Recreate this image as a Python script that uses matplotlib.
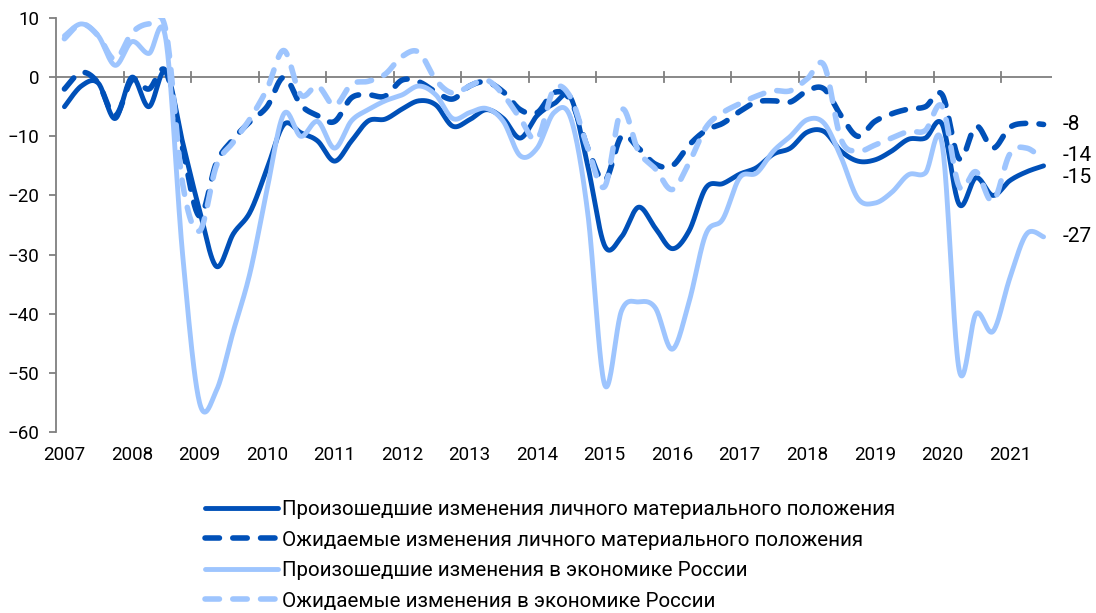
import numpy as np
import pandas as pd
import matplotlib
matplotlib.use("Agg")
import matplotlib.pyplot as plt
import matplotlib.transforms as mtransforms

# quarterly survey balances, 2007Q1 - 2021Q3
quarters = pd.period_range("2007Q1", "2021Q3", freq="Q")

past_personal = [-5, -1.5, -1, -7, 0, -5, 1, -11, -22.5, -32,
                 -26.5, -22.8, -15.5, -8, -9.4, -10.8, -14.2, -10.8, -7.4, -7.1,
                 -5.4, -4, -4.7, -8.3, -7.2, -5.5, -7, -10.3, -6.5, -4.5,
                 -3.5, -15, -28.5, -27, -22, -25.5, -29, -26, -18.7, -18,
                 -16.4, -15.3, -13, -12, -9.3, -9.2, -12.5, -14.2, -14, -12.5,
                 -10.5, -10.3, -8, -21.5, -17, -20, -17.5, -16, -15]

expected_personal = [-2, 0.8, -1, -6.5, -0.5, -2, 1, -12, -23.5, -14.5,
                     -10.5, -7.5, -5, 0, -4.7, -6.5, -7.5, -3.5, -3, -3.2,
                     -0.5, -0.8, -2.5, -3.7, -1.5, -0.8, -2.5, -5.5, -6, -2.6,
                     -4, -12, -17.5, -10, -12, -14.7, -15, -11.5, -9, -7.8,
                     -5.8, -4.2, -4, -4.2, -2.3, -2, -6.5, -10, -7.5, -6.2,
                     -5.4, -5, -3, -13.8, -8.3, -12, -8.5, -7.8, -8]

past_economy = [7, 9, 7, 2, 6, 4, 6.5, -30, -55, -53,
                -43, -33, -19, -6.2, -10, -7.5, -12, -7.4, -5.5, -4,
                -3, -1.5, -3, -7, -6, -5.3, -7.5, -13.3, -12, -6,
                -7, -23, -52, -39.5, -38, -39, -46, -38, -26.5, -24,
                -17, -16.2, -12.5, -10, -7.2, -7.8, -13.5, -20.5, -21.3, -19.5,
                -16.5, -16.2, -11.5, -49.5, -40, -43, -34, -26.5, -27]

expected_economy = [6.5, 9, 7, 3, 7.5, 9, 8, -18, -26, -15,
                    -11, -7, -2, 4.5, -3, -1.5, -4.8, -1.2, -0.7, 0.5,
                    3.5, 4.2, -0.5, -2.7, -1.5, -0.5, -3, -7, -10.5, -2,
                    -3.5, -12, -18.5, -5.5, -12.5, -15.5, -19, -14.5, -8.5, -6,
                    -4.5, -3.2, -2.3, -2.3, -0.3, 2, -10.5, -12.5, -11.5, -10.3,
                    -9.2, -9, -5, -18.5, -16, -21, -13, -12, -14]

labels = [
    "Произошедшие изменения личного материального положения",
    "Ожидаемые изменения личного материального положения",
    "Произошедшие изменения в экономике России",
    "Ожидаемые изменения в экономике России",
]
# last-value labels, in the same order as the series above
end_labels = ["-15", "-8", "-27", "-14"]
years = list(range(2007, 2022))

DARK = "#0050b8"
LIGHT = "#9ec5fe"


def smooth(x, y, n=24):
    # Excel-style smoothed line (Catmull-Rom through the points)
    p = np.column_stack([x, y]).astype(float)
    pp = np.vstack([p[0], p, p[-1]])
    t = np.linspace(0, 1, n, endpoint=False)[:, None]
    parts = []
    for i in range(len(p) - 1):
        p0, p1, p2, p3 = pp[i], pp[i + 1], pp[i + 2], pp[i + 3]
        c1 = p1 + (p2 - p0) / 6
        c2 = p2 - (p3 - p1) / 6
        parts.append((1 - t) ** 3 * p1 + 3 * (1 - t) ** 2 * t * c1
                     + 3 * (1 - t) * t ** 2 * c2 + t ** 3 * p2)
    parts.append(p[-1:])
    s = np.vstack(parts)
    return s[:, 0], s[:, 1]


x = np.array([q.year + (q.quarter - 1) * 0.25 + 0.125 for q in quarters])

plt.rcParams["font.family"] = ["Roboto", "DejaVu Sans"]

fig = plt.figure(figsize=(10.96, 6.13), dpi=100)
ax = fig.add_axes([56 / 1096, 1 - 432 / 613, 996 / 1096, 414 / 613])

dash = (2.6, 2.4)
series = [
    (past_personal, DARK, "-", 3.5),
    (expected_personal, DARK, (0, dash), 4.0),
    (past_economy, LIGHT, "-", 3.5),
    (expected_economy, LIGHT, (0, dash), 4.0),
]
handles = []
for (vals, col, ls, lw), lab in zip(series, labels):
    sx, sy = smooth(x, vals)
    h, = ax.plot(sx, sy, color=col, lw=lw, ls=ls, label=lab,
                 solid_capstyle="round", dash_capstyle="round")
    handles.append(h)

ax.set_xlim(2007, 2021.75)
ax.set_ylim(-60, 10)

# zero line with year ticks
ax.axhline(0, color="#7f7f7f", lw=1.3, zorder=0)
for yr in years[1:]:
    ax.plot([yr, yr], [-0.9, 0.9], color="#7f7f7f", lw=1.3, zorder=0)

for s in ["top", "right", "bottom"]:
    ax.spines[s].set_visible(False)
ax.spines["left"].set_color("#7f7f7f")
ax.spines["left"].set_linewidth(1.3)
ax.set_xticks([])
ax.set_yticks(range(-60, 11, 10))
ax.tick_params(axis="y", direction="out", length=5, width=1.3, color="#7f7f7f",
               labelsize=13.5, pad=7)

trans = mtransforms.blended_transform_factory(ax.transData, ax.transAxes)
for yr in years:
    ax.text(yr + 0.125, -0.035, str(yr), transform=trans, ha="center",
            va="top", fontsize=13.5)

# values at the end of each line
nudge = [-2, 0, 0, 0.8]
for (vals, _, _, _), txt, dy in zip(series, end_labels, nudge):
    ax.text(2021.9, vals[-1] + dy, txt, ha="left", va="center", fontsize=15,
            clip_on=False)

fig.legend(handles=handles, loc="upper left", bbox_to_anchor=(205 / 1096, 1 - 500 / 613),
           frameon=False, fontsize=14.8, handlelength=3.55, handletextpad=0.2,
           labelspacing=0.56, borderpad=0, borderaxespad=0)

fig.savefig("out.png", dpi=100)
